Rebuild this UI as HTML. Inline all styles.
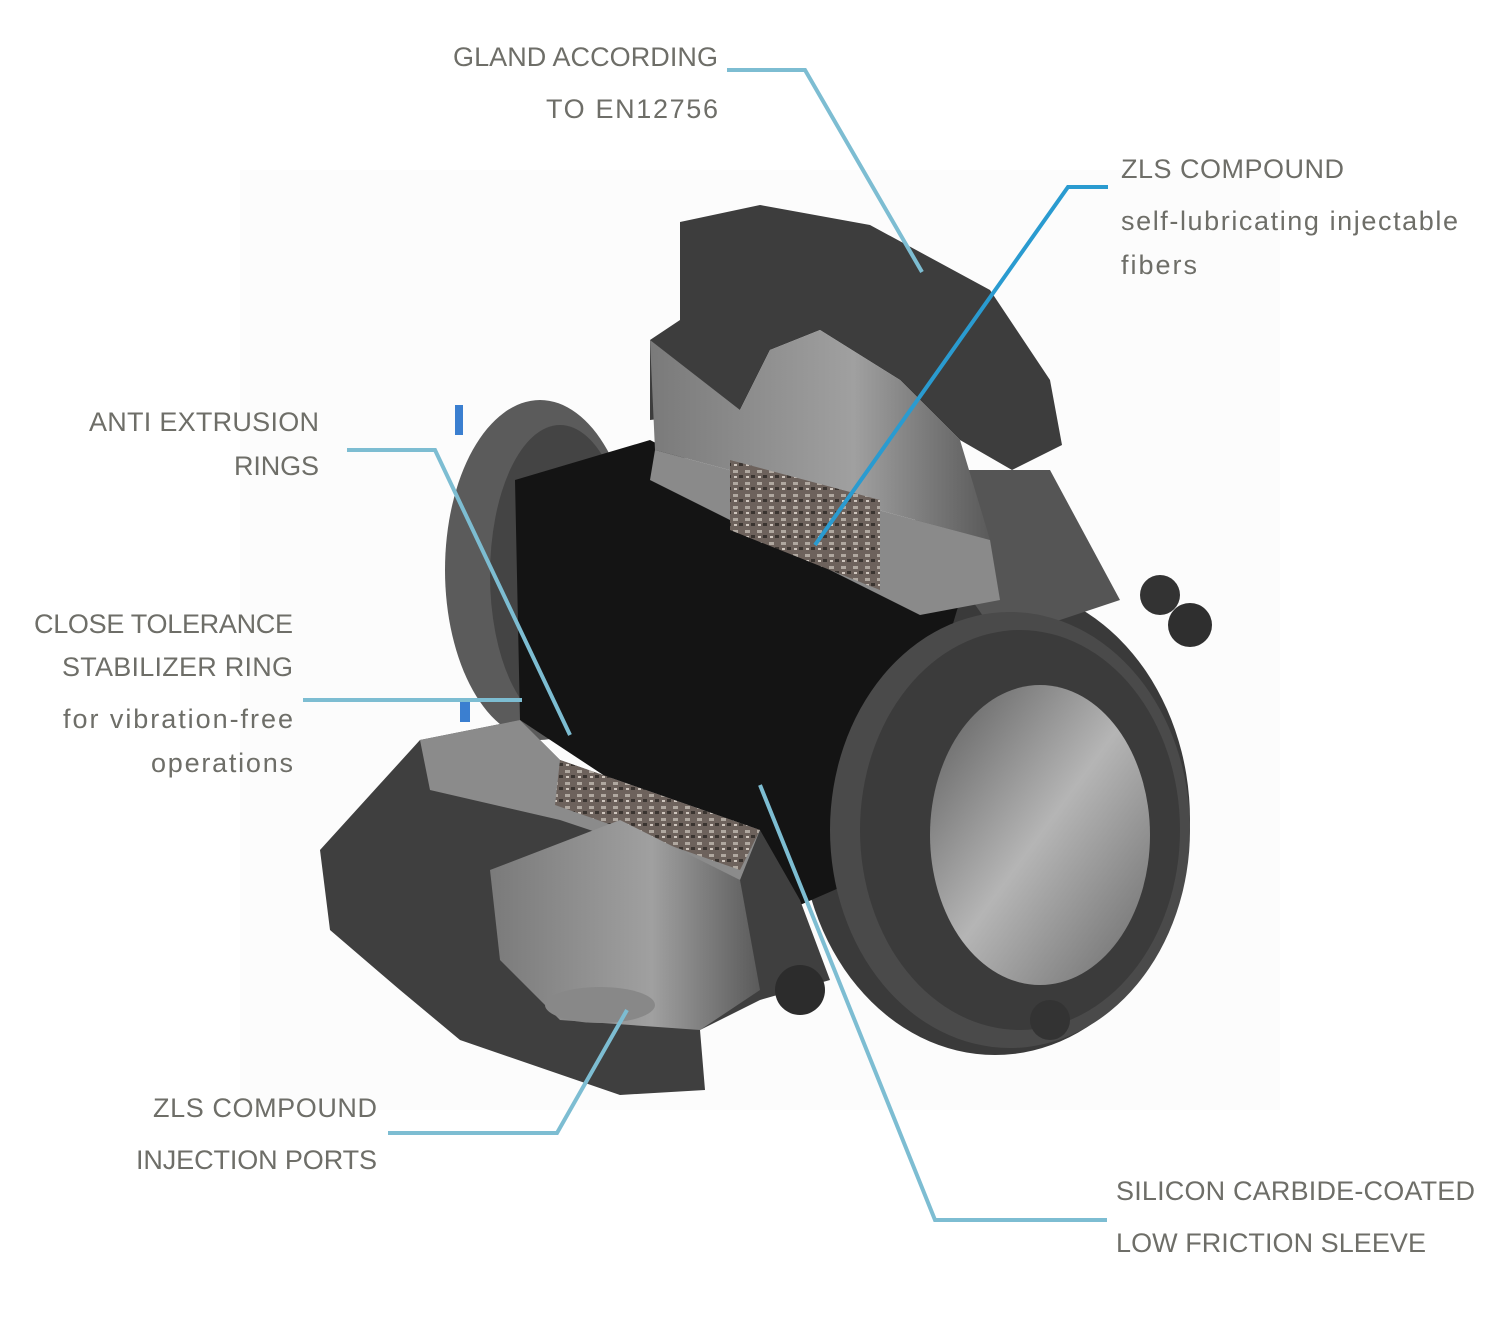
<!DOCTYPE html>
<html><head><style>
html,body{margin:0;padding:0;background:#fff;}
svg{display:block}
text{font-family:"Liberation Sans",sans-serif;fill:#6e6e68;font-size:27px;}
</style></head><body>
<svg width="1500" height="1329" viewBox="0 0 1500 1329" xmlns="http://www.w3.org/2000/svg">
<defs>
<linearGradient id="bore" x1="0" y1="0" x2="1" y2="1">
<stop offset="0" stop-color="#5a5a5a"/><stop offset="0.5" stop-color="#b5b5b5"/><stop offset="1" stop-color="#6a6a6a"/></linearGradient>
<linearGradient id="gl" x1="0" y1="0" x2="1" y2="0">
<stop offset="0" stop-color="#7a7a7a"/><stop offset="0.6" stop-color="#a0a0a0"/><stop offset="1" stop-color="#5a5a5a"/></linearGradient>
<pattern id="pk" width="12" height="12" patternUnits="userSpaceOnUse">
<rect width="12" height="12" fill="#6d625c"/><rect x="1" y="2" width="5" height="3" fill="#b0a8a0"/><rect x="7" y="7" width="4" height="3" fill="#3a3430"/><rect x="2" y="8" width="3" height="2" fill="#cfc6be"/></pattern>
</defs>
<rect width="1500" height="1329" fill="#fff"/>
<rect x="240" y="170" width="1040" height="940" fill="#fcfcfc"/>
<ellipse cx="540" cy="570" rx="95" ry="170" fill="#5b5b5b"/>
<ellipse cx="560" cy="575" rx="70" ry="150" fill="#444"/>
<ellipse cx="995" cy="820" rx="195" ry="235" fill="#3a3a3a"/>
<polygon points="880,470 1050,470 1120,600 1000,640" fill="#555"/>
<polygon points="515,480 650,440 960,600 880,870 800,905 520,720" fill="#141414"/>
<polygon points="680,222 760,205 870,225 990,290 1050,380 1062,445 1012,470 960,440 900,380 820,330 770,350 740,410 650,420 650,340 680,320" fill="#3d3d3d"/>
<polygon points="650,340 740,410 770,350 820,330 900,380 960,440 990,540 655,450" fill="url(#gl)"/>
<polygon points="655,450 990,540 1000,600 920,615 650,480" fill="#8a8a8a"/>
<polygon points="730,460 880,500 880,590 730,530" fill="url(#pk)"/>
<ellipse cx="1010" cy="830" rx="180" ry="218" fill="#4a4a4a"/>
<ellipse cx="1020" cy="830" rx="160" ry="200" fill="#3b3b3b"/>
<ellipse cx="1040" cy="835" rx="110" ry="150" fill="url(#bore)"/>
<circle cx="1190" cy="625" r="22" fill="#2f2f2f"/><circle cx="1160" cy="595" r="20" fill="#333"/>
<circle cx="1050" cy="1020" r="20" fill="#333"/>
<polygon points="320,850 420,740 520,720 560,760 760,830 800,900 830,980 760,1000 700,1030 705,1090 620,1095 460,1040 400,990 330,930" fill="#3f3f3f"/>
<polygon points="420,740 520,720 560,760 760,830 740,880 560,820 430,790" fill="#8b8b8b"/>
<polygon points="560,760 760,830 740,870 555,805" fill="url(#pk)"/>
<polygon points="490,870 620,820 740,880 760,990 700,1030 560,1020 500,960" fill="url(#gl)"/>
<ellipse cx="600" cy="1005" rx="55" ry="18" fill="#888"/>
<circle cx="800" cy="990" r="25" fill="#2c2c2c"/>
<rect x="455" y="405" width="8" height="30" fill="#3b7fd0"/>
<rect x="460" y="700" width="10" height="22" fill="#3b7fd0"/>
<g fill="none" stroke="#7dbdd2" stroke-width="4">
<polyline points="727,70 805,70 922,272"/>
<polyline points="347,450 435,450 570,735"/>
<polyline points="303,700 522,700"/>
<polyline points="388,1133 557,1133 627,1010"/>
<polyline points="1107,1220 935,1220 760,785"/>
</g>
<polyline points="1108,187 1068,187 815,545" fill="none" stroke="#2a9bd0" stroke-width="4"/>
<text x="453" y="66" textLength="265" lengthAdjust="spacing">GLAND ACCORDING</text>
<text x="546" y="118" textLength="172" lengthAdjust="spacing">TO EN12756</text>
<text x="89" y="431" textLength="230" lengthAdjust="spacing">ANTI EXTRUSION</text>
<text x="234" y="475" textLength="85" lengthAdjust="spacing">RINGS</text>
<text x="34" y="633" textLength="259" lengthAdjust="spacing">CLOSE TOLERANCE</text>
<text x="62" y="676" textLength="231" lengthAdjust="spacing">STABILIZER RING</text>
<text x="63" y="728" textLength="230" lengthAdjust="spacing">for vibration-free</text>
<text x="151" y="772" textLength="142" lengthAdjust="spacing">operations</text>
<text x="153" y="1117" textLength="224" lengthAdjust="spacing">ZLS COMPOUND</text>
<text x="136" y="1169" textLength="241" lengthAdjust="spacing">INJECTION PORTS</text>
<text x="1121" y="178" textLength="223" lengthAdjust="spacing">ZLS COMPOUND</text>
<text x="1121" y="230" textLength="337" lengthAdjust="spacing">self-lubricating injectable</text>
<text x="1121" y="274" textLength="76" lengthAdjust="spacing">fibers</text>
<text x="1116" y="1200" textLength="359" lengthAdjust="spacing">SILICON CARBIDE-COATED</text>
<text x="1116" y="1252" textLength="310" lengthAdjust="spacing">LOW FRICTION SLEEVE</text>
</svg>
</body></html>
